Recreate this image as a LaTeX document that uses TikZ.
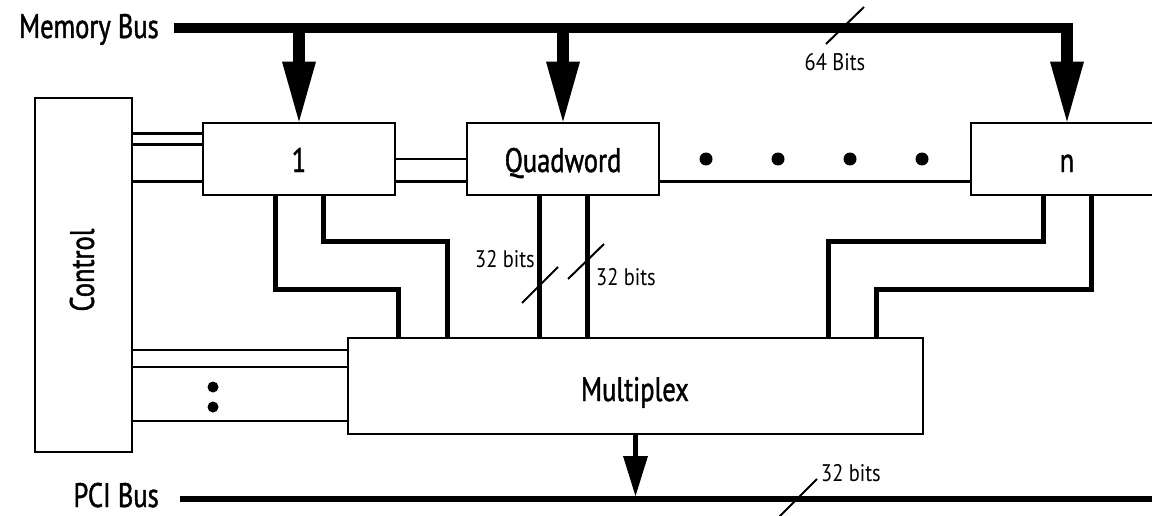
\documentclass[tikz,border=0pt]{standalone}
\usepackage{fontspec}
\setmainfont{PT Sans}[FakeStretch=0.85]
\newfontfamily\heavyfont{PT Sans}[FakeStretch=0.78,FakeBold=1.2]
\usetikzlibrary{arrows.meta,calc}
\begin{document}
\begin{tikzpicture}[x=1pt,y=-1pt,
  box/.style={draw,line width=2.8pt,fill=white,inner sep=0pt,text height=26pt,text depth=0pt,font=\heavyfont\fontsize{34}{40}\selectfont},
  lbl/.style={font=\heavyfont\fontsize{34}{40}\selectfont,inner sep=0pt},
  small/.style={font=\fontsize{24}{28}\selectfont,inner sep=0pt},
  bus/.style={line width=10pt},
  pcibus/.style={line width=6pt},
  feed/.style={line width=12pt,-{Triangle[width=34pt,length=60pt,line width=0pt]}},
  outarrow/.style={line width=5.5pt,-{Triangle[width=25pt,length=40pt,line width=0pt]}},
  wide/.style={line width=5pt},
  thinline/.style={line width=2.2pt},
  slash/.style={line width=2pt},
  dot/.style={circle,fill,inner sep=0pt,minimum size=13pt},
  sdot/.style={circle,fill,inner sep=0pt,minimum size=11pt},
]
\useasboundingbox (0,0) rectangle (1152,516);

\node[box,minimum width=192pt,minimum height=72pt] (b1) at (299,159) {1};
\node[box,minimum width=192pt,minimum height=72pt] (q) at (563,159) {Quadword};
\node[box,minimum width=192pt,minimum height=72pt] (bn) at (1067,159) {n};
\node[box,minimum width=97pt,minimum height=354pt] (ctl) at (83.5,275) {};
\node[lbl,rotate=90] (ctltxt) at (82,270) {Control};
\node[box,minimum width=575pt,minimum height=96pt] (mux) at (635.5,386) {};
\node[lbl,anchor=base] (muxtxt) at (635,401) {Multiplex};

% memory bus
\node[lbl,anchor=base east] (mbl) at (159,38) {Memory Bus};
\coordinate (mbs) at (174,28);
\coordinate (mbe) at (1073,28);
\draw[bus] (mbs) -- (mbe);
\draw[feed] (b1.north |- mbs) -- (b1.north);
\draw[feed] (q.north |- mbs) -- (q.north);
\draw[feed] (bn.north |- mbs) -- (bn.north);

% thin control lines
\draw[thinline] ($(b1.north west)+(0,12)$) coordinate (c1) -- (c1 -| ctl.east);
\draw[thinline] ($(b1.north west)+(0,23)$) coordinate (c2) -- (c2 -| ctl.east);
\draw[thinline] ($(b1.north west)+(0,60)$) coordinate (c3) -- (c3 -| ctl.east);
\draw[thinline] (b1.east) -- (q.west);
\draw[thinline] ($(b1.north east)+(0,60)$) coordinate (c4) -- (c4 -| q.west);
\draw[thinline] ($(q.north east)+(0,60)$) coordinate (c5) -- (c5 -| bn.west);
\draw[thinline] ($(mux.north west)+(0,13)$) coordinate (c6) -- (c6 -| ctl.east);
\draw[thinline] ($(mux.north west)+(0,30)$) coordinate (c7) -- (c7 -| ctl.east);
\draw[thinline] ($(mux.north west)+(0,84)$) coordinate (c8) -- (c8 -| ctl.east);

% dots
\node[dot] (d1) at (706,159) {};
\node[dot] (d2) at (778,159) {};
\node[dot] (d3) at (850,159) {};
\node[dot] (d4) at (922,159) {};
\node[sdot] (d5) at (213,387) {};
\node[sdot] (d6) at (213,407) {};

% data lines
\draw[wide] ($(b1.south)+(-24,0)$) |- ($(mux.north west)+(52,-47)$) -- ($(mux.north west)+(52,0)$);
\draw[wide] ($(b1.south)+(24,0)$) |- ($(mux.north west)+(101,-95)$) -- ($(mux.north west)+(101,0)$);
\draw[wide] ($(q.south)+(-24,0)$) coordinate (c9) -- (c9 |- mux.north);
\draw[wide] ($(q.south)+(24,0)$) coordinate (c10) -- (c10 |- mux.north);
\draw[wide] ($(bn.south)+(-24,0)$) |- ($(mux.north east)+(-96,-95)$) -- ($(mux.north east)+(-96,0)$);
\draw[wide] ($(bn.south)+(24,0)$) |- ($(mux.north east)+(-48,-47)$) -- ($(mux.north east)+(-48,0)$);

% PCI bus
\node[lbl,anchor=base east] (pcil) at (159,507) {PCI Bus};
\coordinate (ps) at (180,499);
\coordinate (pe) at (1152,499);
\coordinate (pstop) at (180,496);
\draw[pcibus] (ps) -- (pe);
\draw[outarrow] (mux.south) -- (mux.south |- pstop);

% width marks
\draw[slash] (826,44) -- (864,7);
\draw[slash] (522,303) -- (558,267);
\draw[slash] (568,279) -- (604,244);
\draw[slash] (779,517) -- (817,479);
\node[small] (l64) at (835,62) {64 Bits};
\node[small] (l32a) at (505,259) {32 bits};
\node[small] (l32b) at (626,277) {32 bits};
\node[small] (l32c) at (851,473) {32 bits};
\end{tikzpicture}
\end{document}
